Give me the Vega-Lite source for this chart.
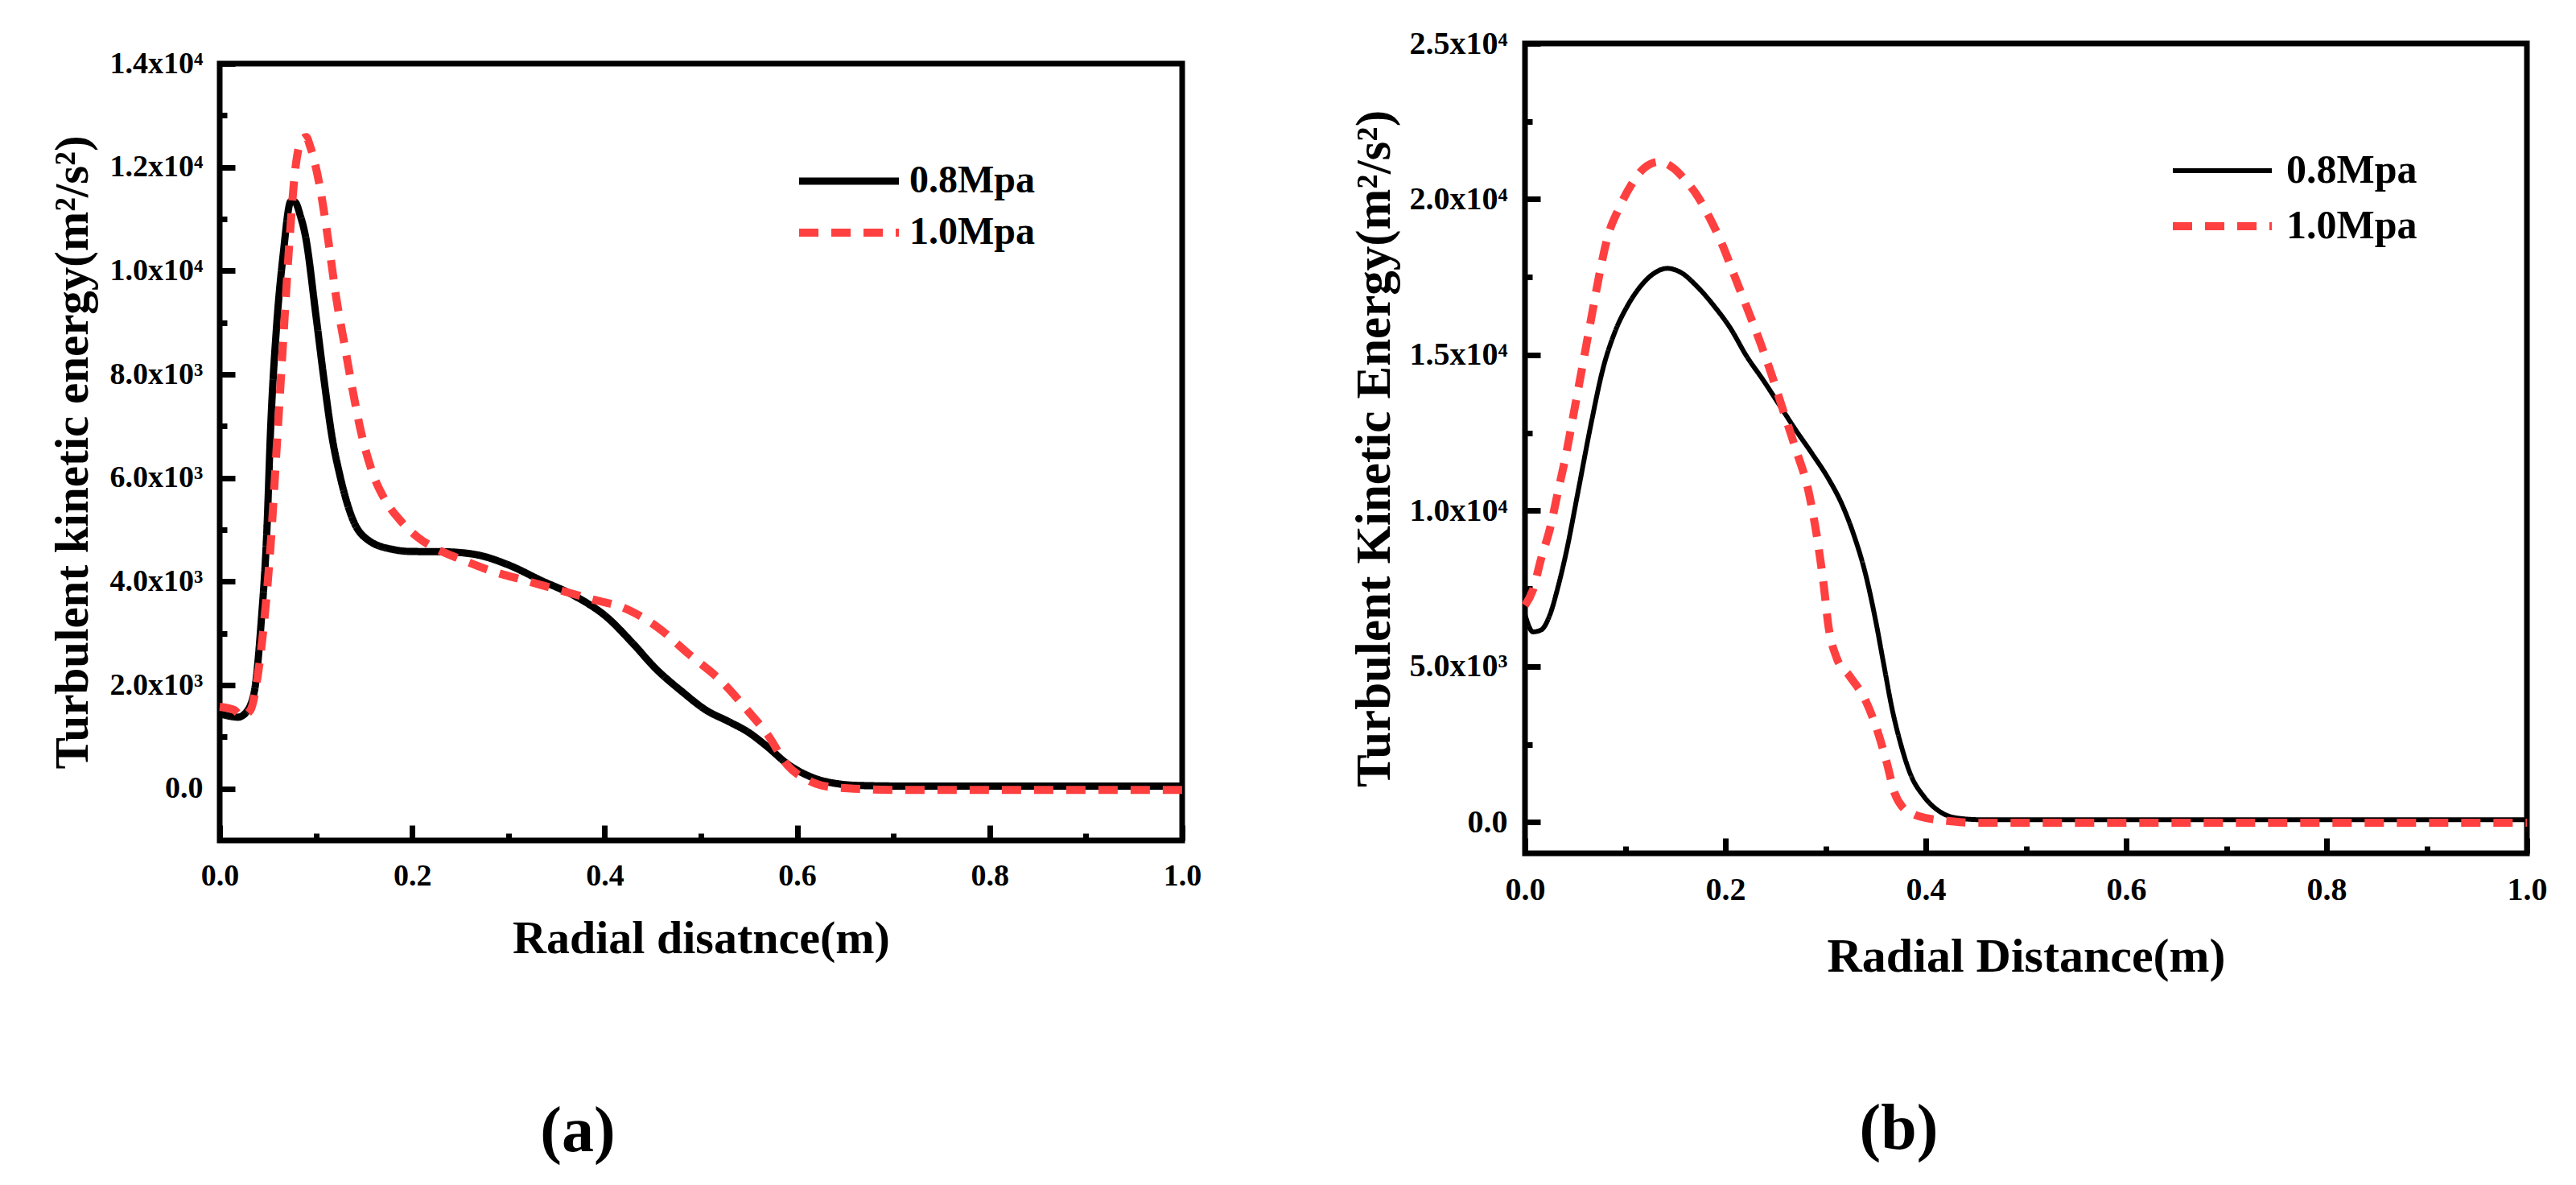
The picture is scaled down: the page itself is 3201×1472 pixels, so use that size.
{
  "$schema": "https://vega.github.io/schema/vega-lite/v6.json",
  "background": "white",
  "padding": {"left": 57, "top": 30, "right": 20, "bottom": 10},
  "spacing": 176,
  "config": {
    "font": "Liberation Serif",
    "view": {"stroke": "black", "strokeWidth": 7},
    "axis": {
      "grid": false,
      "domain": false,
      "ticks": true,
      "tickColor": "black",
      "tickWidth": 7,
      "tickOpacity": 1,
      "zindex": 1,
      "labelColor": "black",
      "labelFont": "Liberation Serif",
      "labelFontWeight": "bold",
      "titleFont": "Liberation Serif",
      "titleFontWeight": "bold",
      "titleColor": "black",
      "labelFlush": false,
      "labelOverlap": false
    }
  },
  "datasets": {
    "a": [
      {"r": 0, "k": 1450, "p": "0.8Mpa"}, {"r": 0.01, "k": 1400, "p": "0.8Mpa"}, {"r": 0.019, "k": 1380, "p": "0.8Mpa"},
      {"r": 0.027, "k": 1463, "p": "0.8Mpa"}, {"r": 0.036, "k": 1880, "p": "0.8Mpa"}, {"r": 0.043, "k": 3190, "p": "0.8Mpa"},
      {"r": 0.049, "k": 4970, "p": "0.8Mpa"}, {"r": 0.053, "k": 6990, "p": "0.8Mpa"}, {"r": 0.059, "k": 8900, "p": "0.8Mpa"},
      {"r": 0.066, "k": 10320, "p": "0.8Mpa"}, {"r": 0.074, "k": 11340, "p": "0.8Mpa"}, {"r": 0.078, "k": 11330, "p": "0.8Mpa"},
      {"r": 0.084, "k": 11050, "p": "0.8Mpa"}, {"r": 0.089, "k": 10680, "p": "0.8Mpa"}, {"r": 0.1, "k": 9135, "p": "0.8Mpa"},
      {"r": 0.108, "k": 7950, "p": "0.8Mpa"}, {"r": 0.117, "k": 6760, "p": "0.8Mpa"}, {"r": 0.125, "k": 6040, "p": "0.8Mpa"},
      {"r": 0.138, "k": 5210, "p": "0.8Mpa"}, {"r": 0.155, "k": 4790, "p": "0.8Mpa"}, {"r": 0.181, "k": 4615, "p": "0.8Mpa"},
      {"r": 0.198, "k": 4580, "p": "0.8Mpa"}, {"r": 0.232, "k": 4575, "p": "0.8Mpa"}, {"r": 0.266, "k": 4520, "p": "0.8Mpa"},
      {"r": 0.3, "k": 4320, "p": "0.8Mpa"}, {"r": 0.334, "k": 4020, "p": "0.8Mpa"}, {"r": 0.369, "k": 3720, "p": "0.8Mpa"},
      {"r": 0.403, "k": 3300, "p": "0.8Mpa"}, {"r": 0.428, "k": 2830, "p": "0.8Mpa"}, {"r": 0.454, "k": 2300, "p": "0.8Mpa"},
      {"r": 0.48, "k": 1880, "p": "0.8Mpa"}, {"r": 0.505, "k": 1520, "p": "0.8Mpa"}, {"r": 0.53, "k": 1285, "p": "0.8Mpa"},
      {"r": 0.548, "k": 1105, "p": "0.8Mpa"}, {"r": 0.569, "k": 810, "p": "0.8Mpa"}, {"r": 0.59, "k": 475, "p": "0.8Mpa"},
      {"r": 0.616, "k": 215, "p": "0.8Mpa"}, {"r": 0.642, "k": 95, "p": "0.8Mpa"}, {"r": 0.667, "k": 60, "p": "0.8Mpa"},
      {"r": 0.71, "k": 50, "p": "0.8Mpa"}, {"r": 0.8, "k": 50, "p": "0.8Mpa"}, {"r": 0.9, "k": 50, "p": "0.8Mpa"},
      {"r": 1.0, "k": 50, "p": "0.8Mpa"},
      {"r": 0, "k": 1580, "p": "1.0Mpa"}, {"r": 0.015, "k": 1520, "p": "1.0Mpa"}, {"r": 0.023, "k": 1400, "p": "1.0Mpa"},
      {"r": 0.032, "k": 1520, "p": "1.0Mpa"}, {"r": 0.04, "k": 2240, "p": "1.0Mpa"}, {"r": 0.046, "k": 3190, "p": "1.0Mpa"},
      {"r": 0.053, "k": 4730, "p": "1.0Mpa"}, {"r": 0.059, "k": 6520, "p": "1.0Mpa"}, {"r": 0.066, "k": 8660, "p": "1.0Mpa"},
      {"r": 0.072, "k": 10440, "p": "1.0Mpa"}, {"r": 0.078, "k": 11870, "p": "1.0Mpa"}, {"r": 0.085, "k": 12520, "p": "1.0Mpa"},
      {"r": 0.09, "k": 12580, "p": "1.0Mpa"}, {"r": 0.094, "k": 12400, "p": "1.0Mpa"}, {"r": 0.104, "k": 11630, "p": "1.0Mpa"},
      {"r": 0.113, "k": 10560, "p": "1.0Mpa"}, {"r": 0.121, "k": 9490, "p": "1.0Mpa"}, {"r": 0.13, "k": 8540, "p": "1.0Mpa"},
      {"r": 0.138, "k": 7710, "p": "1.0Mpa"}, {"r": 0.147, "k": 6875, "p": "1.0Mpa"}, {"r": 0.16, "k": 6040, "p": "1.0Mpa"},
      {"r": 0.172, "k": 5570, "p": "1.0Mpa"}, {"r": 0.189, "k": 5150, "p": "1.0Mpa"}, {"r": 0.206, "k": 4850, "p": "1.0Mpa"},
      {"r": 0.224, "k": 4640, "p": "1.0Mpa"}, {"r": 0.249, "k": 4440, "p": "1.0Mpa"}, {"r": 0.283, "k": 4200, "p": "1.0Mpa"},
      {"r": 0.317, "k": 4020, "p": "1.0Mpa"}, {"r": 0.352, "k": 3840, "p": "1.0Mpa"}, {"r": 0.386, "k": 3660, "p": "1.0Mpa"},
      {"r": 0.42, "k": 3490, "p": "1.0Mpa"}, {"r": 0.454, "k": 3130, "p": "1.0Mpa"}, {"r": 0.488, "k": 2590, "p": "1.0Mpa"},
      {"r": 0.522, "k": 2060, "p": "1.0Mpa"}, {"r": 0.548, "k": 1520, "p": "1.0Mpa"}, {"r": 0.569, "k": 1050, "p": "1.0Mpa"},
      {"r": 0.59, "k": 450, "p": "1.0Mpa"}, {"r": 0.612, "k": 155, "p": "1.0Mpa"}, {"r": 0.633, "k": 35, "p": "1.0Mpa"},
      {"r": 0.659, "k": 0, "p": "1.0Mpa"}, {"r": 0.7, "k": -25, "p": "1.0Mpa"}, {"r": 0.8, "k": -25, "p": "1.0Mpa"},
      {"r": 0.9, "k": -25, "p": "1.0Mpa"}, {"r": 1.0, "k": -25, "p": "1.0Mpa"}
    ],
    "b": [
      {"r": 0, "k": 6670, "p": "0.8Mpa"}, {"r": 0.008, "k": 6110, "p": "0.8Mpa"}, {"r": 0.016, "k": 6170, "p": "0.8Mpa"},
      {"r": 0.025, "k": 6670, "p": "0.8Mpa"}, {"r": 0.033, "k": 7560, "p": "0.8Mpa"}, {"r": 0.041, "k": 8640, "p": "0.8Mpa"},
      {"r": 0.053, "k": 10620, "p": "0.8Mpa"}, {"r": 0.066, "k": 12800, "p": "0.8Mpa"}, {"r": 0.078, "k": 14580, "p": "0.8Mpa"},
      {"r": 0.09, "k": 15760, "p": "0.8Mpa"}, {"r": 0.102, "k": 16560, "p": "0.8Mpa"}, {"r": 0.115, "k": 17190, "p": "0.8Mpa"},
      {"r": 0.127, "k": 17580, "p": "0.8Mpa"}, {"r": 0.142, "k": 17780, "p": "0.8Mpa"}, {"r": 0.156, "k": 17640, "p": "0.8Mpa"},
      {"r": 0.172, "k": 17190, "p": "0.8Mpa"}, {"r": 0.189, "k": 16560, "p": "0.8Mpa"}, {"r": 0.205, "k": 15860, "p": "0.8Mpa"},
      {"r": 0.221, "k": 14970, "p": "0.8Mpa"}, {"r": 0.238, "k": 14180, "p": "0.8Mpa"}, {"r": 0.254, "k": 13390, "p": "0.8Mpa"},
      {"r": 0.27, "k": 12600, "p": "0.8Mpa"}, {"r": 0.287, "k": 11810, "p": "0.8Mpa"}, {"r": 0.303, "k": 11020, "p": "0.8Mpa"},
      {"r": 0.316, "k": 10230, "p": "0.8Mpa"}, {"r": 0.328, "k": 9240, "p": "0.8Mpa"}, {"r": 0.34, "k": 7950, "p": "0.8Mpa"},
      {"r": 0.35, "k": 6470, "p": "0.8Mpa"}, {"r": 0.358, "k": 5080, "p": "0.8Mpa"}, {"r": 0.366, "k": 3700, "p": "0.8Mpa"},
      {"r": 0.375, "k": 2510, "p": "0.8Mpa"}, {"r": 0.385, "k": 1520, "p": "0.8Mpa"}, {"r": 0.398, "k": 830, "p": "0.8Mpa"},
      {"r": 0.414, "k": 340, "p": "0.8Mpa"}, {"r": 0.43, "k": 140, "p": "0.8Mpa"}, {"r": 0.455, "k": 80, "p": "0.8Mpa"},
      {"r": 0.6, "k": 80, "p": "0.8Mpa"}, {"r": 0.8, "k": 80, "p": "0.8Mpa"}, {"r": 1.0, "k": 80, "p": "0.8Mpa"},
      {"r": 0, "k": 6960, "p": "1.0Mpa"}, {"r": 0.008, "k": 7460, "p": "1.0Mpa"}, {"r": 0.016, "k": 8450, "p": "1.0Mpa"},
      {"r": 0.025, "k": 9435, "p": "1.0Mpa"}, {"r": 0.033, "k": 10620, "p": "1.0Mpa"}, {"r": 0.041, "k": 11810, "p": "1.0Mpa"},
      {"r": 0.049, "k": 13190, "p": "1.0Mpa"}, {"r": 0.057, "k": 14580, "p": "1.0Mpa"}, {"r": 0.066, "k": 16160, "p": "1.0Mpa"},
      {"r": 0.074, "k": 17545, "p": "1.0Mpa"}, {"r": 0.082, "k": 18730, "p": "1.0Mpa"}, {"r": 0.094, "k": 19720, "p": "1.0Mpa"},
      {"r": 0.107, "k": 20510, "p": "1.0Mpa"}, {"r": 0.119, "k": 21000, "p": "1.0Mpa"}, {"r": 0.134, "k": 21200, "p": "1.0Mpa"},
      {"r": 0.148, "k": 21000, "p": "1.0Mpa"}, {"r": 0.16, "k": 20610, "p": "1.0Mpa"}, {"r": 0.172, "k": 20110, "p": "1.0Mpa"},
      {"r": 0.184, "k": 19420, "p": "1.0Mpa"}, {"r": 0.197, "k": 18530, "p": "1.0Mpa"}, {"r": 0.209, "k": 17545, "p": "1.0Mpa"},
      {"r": 0.221, "k": 16560, "p": "1.0Mpa"}, {"r": 0.234, "k": 15470, "p": "1.0Mpa"}, {"r": 0.246, "k": 14380, "p": "1.0Mpa"},
      {"r": 0.258, "k": 13190, "p": "1.0Mpa"}, {"r": 0.27, "k": 12000, "p": "1.0Mpa"}, {"r": 0.283, "k": 10620, "p": "1.0Mpa"},
      {"r": 0.291, "k": 9240, "p": "1.0Mpa"}, {"r": 0.298, "k": 7650, "p": "1.0Mpa"}, {"r": 0.303, "k": 6270, "p": "1.0Mpa"},
      {"r": 0.311, "k": 5280, "p": "1.0Mpa"}, {"r": 0.324, "k": 4690, "p": "1.0Mpa"}, {"r": 0.34, "k": 3900, "p": "1.0Mpa"},
      {"r": 0.352, "k": 2910, "p": "1.0Mpa"}, {"r": 0.361, "k": 1920, "p": "1.0Mpa"}, {"r": 0.369, "k": 930, "p": "1.0Mpa"},
      {"r": 0.377, "k": 475, "p": "1.0Mpa"}, {"r": 0.389, "k": 240, "p": "1.0Mpa"}, {"r": 0.406, "k": 100, "p": "1.0Mpa"},
      {"r": 0.422, "k": 40, "p": "1.0Mpa"}, {"r": 0.447, "k": -20, "p": "1.0Mpa"}, {"r": 0.6, "k": -20, "p": "1.0Mpa"},
      {"r": 0.8, "k": -20, "p": "1.0Mpa"}, {"r": 1.0, "k": -20, "p": "1.0Mpa"}
    ]
  },
  "resolve": {
    "scale": {"x": "independent", "y": "independent", "color": "independent", "strokeDash": "independent", "strokeWidth": "independent"},
    "legend": {"color": "independent", "strokeDash": "independent", "strokeWidth": "independent"},
    "axis": {"x": "independent", "y": "independent"}
  },
  "hconcat": [
    {
      "spacing": 1,
      "vconcat": [
        {
          "width": 1,
          "height": 1,
          "view": {"stroke": null},
          "data": {"values": []},
          "mark": {"type": "point", "opacity": 0},
          "encoding": {}
        },
        {
          "width": 1196,
          "height": 965,
          "title": {"text": "(a)", "orient": "bottom", "anchor": "middle", "frame": "group", "dx": -153, "offset": 172, "fontSize": 80, "fontWeight": "bold", "font": "Liberation Serif", "color": "black"},
          "data": {"name": "a"},
          "encoding": {
            "color": {"field": "p", "type": "nominal", "scale": {"domain": ["0.8Mpa", "1.0Mpa"], "range": ["#000000", "#ff4040"]},
              "legend": {"title": null, "orient": "none", "legendX": 715, "legendY": 145, "symbolType": "stroke", "symbolSize": 15376, "clipHeight": 52, "rowPadding": 12, "labelFontSize": 48, "labelFont": "Liberation Serif", "labelFontWeight": "bold", "labelColor": "black", "labelOffset": 8, "labelLimit": 0, "padding": 0}},
            "strokeDash": {"field": "p", "type": "nominal", "scale": {"domain": ["0.8Mpa", "1.0Mpa"], "range": [[1, 0], [24, 16]]},
              "legend": {"title": null, "orient": "none", "legendX": 715, "legendY": 145, "symbolType": "stroke", "symbolSize": 15376, "clipHeight": 52, "rowPadding": 12, "labelFontSize": 48, "labelFont": "Liberation Serif", "labelFontWeight": "bold", "labelColor": "black", "labelOffset": 8, "labelLimit": 0, "padding": 0}},
            "strokeWidth": {"field": "p", "type": "ordinal", "scale": {"domain": ["0.8Mpa", "1.0Mpa"], "range": [9, 10]},
              "legend": {"title": null, "orient": "none", "legendX": 715, "legendY": 145, "symbolType": "stroke", "symbolSize": 15376, "clipHeight": 52, "rowPadding": 12, "labelFontSize": 48, "labelFont": "Liberation Serif", "labelFontWeight": "bold", "labelColor": "black", "labelOffset": 8, "labelLimit": 0, "padding": 0}}
          },
          "resolve": {"axis": {"x": "independent", "y": "independent"}},
          "layer": [
            {
              "transform": [{"filter": "datum.p == '0.8Mpa'"}],
              "mark": {"type": "line", "interpolate": "monotone"},
              "encoding": {
                "x": {"field": "r", "type": "quantitative", "scale": {"domain": [0, 1], "nice": false},
                  "axis": {"orient": "bottom", "values": [0, 0.2, 0.4, 0.6, 0.8, 1.0], "format": ".1f", "offset": -19, "tickSize": 19, "labelPadding": 25, "labelFontSize": 38, "title": "Radial disatnce(m)", "titleFontSize": 58, "titlePadding": 30}},
                "y": {"field": "k", "type": "quantitative", "scale": {"domain": [-1000, 14000], "nice": false, "zero": false},
                  "axis": {"orient": "left", "values": [0, 2000, 4000, 6000, 8000, 10000, 12000, 14000], "labelExpr": "datum.value == 0 ? '0.0' : (datum.value >= 10000 ? format(datum.value / 10000, '.1f') + 'x10⁴' : format(datum.value / 1000, '.1f') + 'x10³')", "offset": -19, "tickSize": 19, "labelPadding": 21, "labelFontSize": 38, "title": "Turbulent kinetic energy(m²/s²)", "titleFontSize": 59, "titlePadding": 16}}
              }
            },
            {
              "transform": [{"filter": "datum.p == '1.0Mpa'"}],
              "mark": {"type": "line", "interpolate": "monotone"},
              "encoding": {
                "x": {"field": "r", "type": "quantitative", "scale": {"domain": [0, 1], "nice": false},
                  "axis": {"orient": "bottom", "values": [0.1, 0.3, 0.5, 0.7, 0.9], "offset": -9, "tickSize": 9, "labels": false, "title": null}},
                "y": {"field": "k", "type": "quantitative", "scale": {"domain": [-1000, 14000], "nice": false, "zero": false},
                  "axis": {"orient": "left", "values": [1000, 3000, 5000, 7000, 9000, 11000, 13000], "offset": -9, "tickSize": 9, "labels": false, "title": null}}
              }
            }
          ]
        }
      ]
    },
    {
      "width": 1245,
      "height": 1006,
      "title": {"text": "(b)", "orient": "bottom", "anchor": "middle", "frame": "group", "dx": -158, "offset": 146, "fontSize": 80, "fontWeight": "bold", "font": "Liberation Serif", "color": "black"},
      "data": {"name": "b"},
      "encoding": {
        "color": {"field": "p", "type": "nominal", "scale": {"domain": ["0.8Mpa", "1.0Mpa"], "range": ["#000000", "#ff4040"]},
          "legend": {"title": null, "orient": "none", "legendX": 800, "legendY": 132, "symbolType": "stroke", "symbolSize": 15129, "clipHeight": 52, "rowPadding": 17, "labelFontSize": 50, "labelFont": "Liberation Serif", "labelFontWeight": "bold", "labelColor": "black", "labelOffset": 13, "labelLimit": 0, "padding": 0}},
        "strokeDash": {"field": "p", "type": "nominal", "scale": {"domain": ["0.8Mpa", "1.0Mpa"], "range": [[1, 0], [24, 16]]},
          "legend": {"title": null, "orient": "none", "legendX": 800, "legendY": 132, "symbolType": "stroke", "symbolSize": 15129, "clipHeight": 52, "rowPadding": 17, "labelFontSize": 50, "labelFont": "Liberation Serif", "labelFontWeight": "bold", "labelColor": "black", "labelOffset": 13, "labelLimit": 0, "padding": 0}},
        "strokeWidth": {"field": "p", "type": "ordinal", "scale": {"domain": ["0.8Mpa", "1.0Mpa"], "range": [6, 10]},
          "legend": {"title": null, "orient": "none", "legendX": 800, "legendY": 132, "symbolType": "stroke", "symbolSize": 15129, "clipHeight": 52, "rowPadding": 17, "labelFontSize": 50, "labelFont": "Liberation Serif", "labelFontWeight": "bold", "labelColor": "black", "labelOffset": 13, "labelLimit": 0, "padding": 0}}
      },
      "resolve": {"axis": {"x": "independent", "y": "independent"}},
      "layer": [
        {
          "transform": [{"filter": "datum.p == '0.8Mpa'"}],
          "mark": {"type": "line", "interpolate": "monotone"},
          "encoding": {
            "x": {"field": "r", "type": "quantitative", "scale": {"domain": [0, 1], "nice": false},
              "axis": {"orient": "bottom", "values": [0, 0.2, 0.4, 0.6, 0.8, 1.0], "format": ".1f", "offset": -19, "tickSize": 19, "labelPadding": 25, "labelFontSize": 40, "title": "Radial Distance(m)", "titleFontSize": 60, "titlePadding": 34}},
            "y": {"field": "k", "type": "quantitative", "scale": {"domain": [-1000, 25000], "nice": false, "zero": false},
              "axis": {"orient": "left", "values": [0, 5000, 10000, 15000, 20000, 25000], "labelExpr": "datum.value == 0 ? '0.0' : (datum.value >= 10000 ? format(datum.value / 10000, '.1f') + 'x10⁴' : format(datum.value / 1000, '.1f') + 'x10³')", "offset": -19, "tickSize": 19, "labelPadding": 22, "labelFontSize": 40, "title": "Turbulent Kinetic Energy(m²/s²)", "titleFontSize": 61, "titlePadding": 12}}
          }
        },
        {
          "transform": [{"filter": "datum.p == '1.0Mpa'"}],
          "mark": {"type": "line", "interpolate": "monotone"},
          "encoding": {
            "x": {"field": "r", "type": "quantitative", "scale": {"domain": [0, 1], "nice": false},
              "axis": {"orient": "bottom", "values": [0.1, 0.3, 0.5, 0.7, 0.9], "offset": -9, "tickSize": 9, "labels": false, "title": null}},
            "y": {"field": "k", "type": "quantitative", "scale": {"domain": [-1000, 25000], "nice": false, "zero": false},
              "axis": {"orient": "left", "values": [2500, 7500, 12500, 17500, 22500], "offset": -9, "tickSize": 9, "labels": false, "title": null}}
          }
        }
      ]
    }
  ]
}
